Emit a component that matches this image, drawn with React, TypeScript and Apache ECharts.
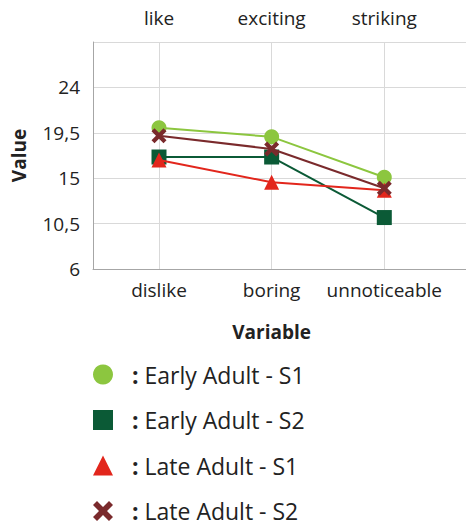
import React, { useEffect, useRef } from "react";
import * as echarts from "echarts";

const bottomCategories = ["dislike", "boring", "unnoticeable"];
const topCategories = ["like", "exciting", "striking"];
const seriesNames = ["Early Adult - S1", "Early Adult - S2", "Late Adult - S1", "Late Adult - S2"];
const earlyAdultS1 = [20.0, 19.1, 15.1];
const earlyAdultS2 = [17.1, 17.1, 11.1];
const lateAdultS1 = [16.8, 14.6, 13.8];
const lateAdultS2 = [19.2, 17.9, 14.0];
const yMin = 6;
const yMax = 28.5;
const yStep = 4.5;

const CROSS = "path://M2,0 L5,3 L8,0 L10,2 L7,5 L10,8 L8,10 L5,7 L2,10 L0,8 L3,5 L0,2 Z";
const colors = ["#8cc63f", "#0b5a36", "#e2261c", "#7a2a2c"];
const symbols = ["circle", "rect", "triangle", CROSS];
const sizes = [15, 15, 15, 15];
const values = [earlyAdultS1, earlyAdultS2, lateAdultS1, lateAdultS2];

export default function App() {
  const ref = useRef<HTMLDivElement>(null);
  useEffect(() => {
    if (!ref.current) return;
    const chart = echarts.init(ref.current, null, { renderer: "svg" });
    const font = "'Open Sans', sans-serif";
    chart.setOption({
      animation: false,
      backgroundColor: "#ffffff",
      textStyle: { fontFamily: font },
      grid: [
        { left: 93, right: 0, top: 42, bottom: 257 },
        { left: 159, width: 225.3, top: 42, bottom: 257 },
      ],
      xAxis: [
        {
          gridIndex: 0,
          type: "value",
          min: 0,
          max: 1,
          axisLine: { show: true, lineStyle: { color: "#a6a6a6", width: 1 } },
          axisTick: { show: false },
          axisLabel: { show: false },
          splitLine: { show: false },
        },
        {
          gridIndex: 1,
          type: "category",
          position: "bottom",
          boundaryGap: false,
          data: bottomCategories,
          axisLine: { show: false },
          axisTick: { show: false },
          axisLabel: { interval: 0, fontSize: 19, color: "#222", margin: 11, fontFamily: font },
          splitLine: { show: true, interval: 0, lineStyle: { color: "#d9d9d9", width: 1 } },
          name: "Variable",
          nameLocation: "middle",
          nameGap: 53,
          nameTextStyle: { fontSize: 19, fontWeight: "bold", color: "#222", fontFamily: font },
        },
        {
          gridIndex: 1,
          type: "category",
          position: "top",
          boundaryGap: false,
          data: topCategories,
          axisLine: { show: false },
          axisTick: { show: false },
          axisLabel: { interval: 0, fontSize: 19, color: "#222", margin: 15, fontFamily: font },
          splitLine: { show: false },
        },
      ],
      yAxis: [
        {
          gridIndex: 0,
          type: "value",
          min: yMin,
          max: yMax,
          interval: yStep,
          axisLine: { show: true, lineStyle: { color: "#a6a6a6", width: 1 } },
          axisTick: { show: false },
          axisLabel: {
            fontSize: 19,
            color: "#222",
            margin: 13,
            fontFamily: font,
            formatter: (v: number) => (v >= yMax - 0.01 ? "" : String(v).replace(".", ",")),
          },
          splitLine: { show: true, lineStyle: { color: "#d9d9d9", width: 1 } },
          name: "Value",
          nameLocation: "middle",
          nameGap: 65,
          nameTextStyle: { fontSize: 19, fontWeight: "bold", color: "#222", fontFamily: font },
        },
        {
          gridIndex: 1,
          type: "value",
          min: yMin,
          max: yMax,
          show: false,
          splitLine: { show: false },
        },
      ],
      legend: {
        orient: "vertical",
        left: 93,
        top: 363,
        padding: 0,
        itemWidth: 20,
        itemHeight: 20,
        itemGap: 22.5,
        formatter: (n: string) => "{c|:} " + n,
        textStyle: {
          fontSize: 23,
          color: "#222",
          fontFamily: font,
          padding: [0, 0, 0, 14],
          rich: { c: { fontSize: 23, fontWeight: "bold", color: "#222", fontFamily: font } },
        },
        data: seriesNames.map((n, i) => ({ name: n, icon: symbols[i] })),
      },
      series: seriesNames.map((n, i) => ({
        name: n,
        type: "line",
        xAxisIndex: 1,
        yAxisIndex: 1,
        data: values[i],
        clip: false,
        symbol: symbols[i],
        symbolSize: sizes[i],
        showAllSymbol: true,
        itemStyle: { color: colors[i], opacity: 1 },
        lineStyle: { color: colors[i], width: 2 },
        emphasis: { disabled: true },
        z: i === 0 ? 2 : 3 + i,
      })),
    });
    return () => chart.dispose();
  }, []);
  return (
    <div
      ref={ref}
      style={{ position: "fixed", left: 0, top: 0, width: 466, height: 526, background: "#fff" }}
    />
  );
}
